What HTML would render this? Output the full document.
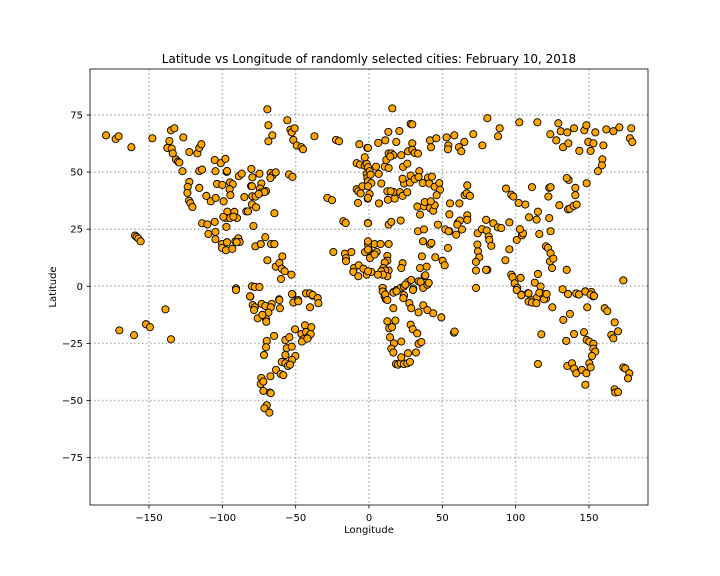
<!DOCTYPE html>
<html><head><meta charset="utf-8">
<style>
html,body{margin:0;padding:0;background:#fff;}
svg{display:block;font-family:"DejaVu Sans","Liberation Sans",sans-serif;}
</style></head>
<body>
<svg id="chart" width="720" height="576" viewBox="0 0 720 576" xmlns="http://www.w3.org/2000/svg">
<rect x="0" y="0" width="720" height="576" fill="#fff"/>
<text x="369" y="63" text-anchor="middle" font-size="12" fill="#000">Latitude vs Longitude of randomly selected cities: February 10, 2018</text>
<g id="grid"></g>
<g id="points"></g>
<rect x="90" y="69" width="558" height="436" fill="none" stroke="#000" stroke-width="0.8"/>
<g id="axes"></g>
<text x="369" y="533" text-anchor="middle" font-size="10">Longitude</text>
<text x="0" y="0" transform="translate(56,287) rotate(-90)" text-anchor="middle" font-size="10">Latitude</text>
</svg>
<script>
const xTicks = [-150,-100,-50,0,50,100,150];
const yTicks = [-75,-50,-25,0,25,50,75];
const points = [
[-179.3,66.1],[-172.7,64.5],[-170.7,65.7],[-162,60.9],[-147.7,64.8],[-135,68.3],[-132.7,69.2],[-136.1,63.6],[-126.6,65.2],
[-137.5,60.6],[-134.5,60.3],[-133.8,58.2],[-131.6,55.5],[-130.2,54.6],[-129.3,54.2],[-122.5,58.8],[-117,58.2],[-115.7,60.6],[-114.3,62.2],
[-127.2,50.4],[-115.7,50.5],[-113.8,51.1],[-122.5,45.7],[-123.6,43.5],[-123.8,40.9],[-122.7,37.5],[-121.8,36.4],[-120.4,34.7],[-115.7,43.1],
[-105.2,55.3],[-101.1,53.9],[-97.9,55.8],[-104.7,50.4],[-97,50.1],[-96.8,50.5],[-110.9,39.6],[-107.9,37.2],[-104.5,38.7],
[-103.6,44.8],[-100,44.4],[-94.7,45.5],[-92.9,44.7],[-95,42.5],[-94.5,39.9],[-99.1,37.2],
[-88.8,48.2],[-86.8,49.3],[-80.2,51.4],[-79.5,47.7],[-74.7,49.3],[-80.4,43.9],[-79.8,43.8],[-73.4,45],[-74.3,42.8],[-73.8,41],[-70.2,41.7],[-71.3,41.3],
[-85,39.1],[-79.5,39.4],[-77.3,39.3],[-75.2,40.4],[-79.8,35.9],[-77,34.6],[-83.6,32.8],[-82.5,32.8],
[-67,49.6],[-65.7,48.6],[-63.6,49.9],[-67.2,47.4],[-54.5,49],[-52.2,47.9],
[-69.3,77.5],[-68.6,70.5],[-65.9,66.1],[-68.6,63.5],[-55.7,72.7],[-53.6,68.6],[-52.7,67.4],[-50.7,69.2],[-51.6,64.1],[-49.3,61.7],[-46.1,60.9],[-45,60],
[-37.2,65.7],[-22.5,64.1],[-20.4,63.5],[-6.6,62.2],[-28.4,38.7],[-25.2,37.7],[-64.5,32],[-17.5,28.5],[-15.9,27.7],
[-96.6,32.7],[-97.5,29.9],[-94.7,29.9],[-91.8,32.6],[-90,29.9],[-92.5,30.5],[-99.3,30.4],[-97.2,26],[-78.8,26.4],
[-113.8,27.6],[-110.2,27.1],[-105.2,28.2],[-109.5,22.9],[-104.7,23.8],[-104.7,20.6],
[-159.5,22.2],[-158.4,21.6],[-157.2,20.9],[-155.7,19.7],
[-100.2,18.5],[-96.8,19.3],[-100.2,16.8],[-97.5,15.8],[-93.2,16.4],[-91.1,19.7],[-89.1,21],[-88.2,19.4],[-90.2,19.3],
[-77.5,17.5],[-73.8,18.5],[-70.7,21.5],[-66.8,18.5],[-64.5,18.5],
[-59.1,13.1],[-69.3,11.4],[-63.6,8.6],[-61.1,10.2],[-59.5,7.7],[-57.5,6.6],[-52.9,5.1],[-60,3.2],
[-90.7,-0.9],[-80.9,-4.5],[-79.8,0],[-77.9,-0.3],[-74.7,-0.3],
[-61.3,-5.7],[-52.2,-3.5],[-48.4,-6],[-42.9,-3.1],[-40.9,-3.1],[-38.4,-4.1],[-35,-5.1],
[-24.3,15],[-16.4,14.3],[-15.7,12.3],[-15.7,11],[-12,15],[-10.2,8],[-10.7,6.3],[-7,9.2],[-7.3,4.4],[-3.8,7.7],[-1.6,5.1],[-2.7,15],[-0.2,16],[0.7,12.4],
[-8.4,53.9],[-6.1,53.3],[-2.9,52.8],[-1.6,53.6],[-1.1,60.6],[-2.9,56.5],[-1.6,49.2],[-1.1,47.4],[-0.2,45.3],[-8.4,42.5],[-7.3,41.6],[-5.7,40.7],[-4.5,43.8],[-7.5,36.5],[-0.9,38.4],[-0.7,27.7],
[15.9,77.9],[28.4,71.1],[29.5,70.9],[13.2,67.6],[20.7,68],[6.3,62.8],[11.1,63.9],[18.6,63.2],[-0.7,60.6],
[29.5,62.6],[41.6,63.9],[45.9,64.8],[42.3,60.9],[52.9,65.2],[58.2,66.1],[54.1,61.7],[53.8,60],[61.3,60.9],[65,63.2],[62.9,59.1],
[71.1,66.6],[77.3,61.7],[80.7,73.6],[89.1,69.2],[88,65.7],[102.5,71.8],[114.8,71.8],[129.1,71.4],
[123.6,66.6],[127.7,63.9],[130.7,67.9],[135.2,67.4],[139.8,69.2],[132.3,60.9],[135.9,62.6],[143.4,59.3],[146.8,68.3],[148.2,70.5],[154.3,67.4],[149.5,63.2],[153,62.6],[159.8,61.7],[161.8,68.7],[166.6,67.9],[170.7,69.6],[178.8,69.2],[177.9,64.8],[179.5,63.2],
[151.1,59.3],[159.1,55.6],[158.8,53],[156.1,50.4],[148.4,45.1],
[-0.7,52.1],[0.4,50.4],[1.1,48.9],[4.8,52.4],[6.6,49.2],[-0.7,46],[1.6,45.2],[-0.7,43.8],[0.4,40.4],[-0.7,38.7],
[10.7,52.4],[13.4,51.8],[11.8,55.3],[13.4,58.2],[15.2,58.2],[16.6,57.4],[14.5,56.8],[22,57.4],[23.2,52.3],[26.6,59.1],[29.5,59.8],[31.1,58.4],[33.4,58.1],[26.1,53.7],[28.4,48.5],[23.9,45],[22.9,47.1],[21.1,41.2],[22.9,39.6],[26.1,41.2],[27.9,45.4],[31.1,46.9],[34.3,50.4],[33.8,47.9],[36.6,45.2],[40.2,47.6],[41.1,45],[44.8,43.6],[42.9,48],[47.9,45.2],[48.4,42.3],[46.1,39.9],[12.5,41.6],[12.9,37.9],[17.5,38.4],[16.6,41.3],[14.8,41.6],[6.8,36.3],[8.4,45],
[33,34.9],[34.8,31.4],[37.5,35],[38,36.9],[41.6,34.3],[43.8,33.1],[44.8,35.5],[42.1,37.2],[55.2,36.3],[54.8,31.5],[61.6,36.3],[67,44.2],[65.2,39.9],[66.6,40.7],[68.8,39.6],
[60.7,27.9],[62,28.8],[67,31.1],[67,29.1],[60.2,27],[59.5,22.6],[63.4,24.9],[54.8,24.1],[52,24.9],[-0.7,27.6],
[13.4,27],[15.2,28.2],[21.6,28.8],[33.4,24.1],[37.5,24.9],
[74.1,23.2],[77,25],[80.2,24.4],[81.6,21.8],[82,20.3],[83.4,17.7],[79.8,29.1],[84.8,27.6],[87.9,25.8],[90.2,25.5],[95.7,28],[100.7,20.3],[104.3,22.3],[105,23.2],[102.9,25],[116.1,22.9],[123.8,24.1],[115.2,32.7],[114.3,29.2],[109.1,30.2],[106.6,35.8],[102,36.5],[97,40.1],[93.4,42.8],[98.4,39.3],[111.1,43.4],[122.9,43.1],[123.8,43.4],[122.3,39.3],[129.8,35.5],[135.7,33.7],[137,34],[139.5,35.2],[141.6,35.8],[140.7,39.9],[140.7,43.1],[136.1,46.6],[134.8,47.4],[122.9,29.9],
[120.7,17.5],[122,16.8],[123.8,14.5],[123.4,10.9],[125.7,12.1],[124.8,8],[134.8,7.2],[115.2,5.4],[95.7,16.2],[93,11.4],[103.4,3.7],[97,5.1],[97.9,4],[99.3,1.3],[101.1,-0.7],[103.9,-3.6],[108.4,-3],[113,1.6],[117,-0.1],[119.3,-3.4],[120.7,-5.4],[114.3,-5.1],[110.2,-6],[132,-1.3],[135.7,-3.4],[142,-3.4],[147.5,-2.2],[151.6,-2.5],[153,-4.4],[173.4,2.6],
[53.8,16.8],[45.2,12.7],[50.2,11.2],[51.6,9.2],[41.6,18.3],[42.5,19],[36.1,13.1],[34.8,8],[39.3,8.6],[37.9,4.5],[22.9,10.1],[22,8],[12.5,13.3],[12.5,11.2],[10.7,10.4],[9.8,8],[13.4,6.9],[11.1,6.9],[8.4,6.6],[12.5,4.4],[9.5,5.1],[6.1,5.1],[1.6,6.3],[-0.7,6.6],[3.8,18.5],[5.2,15],[3.8,13.9],[7.9,18.5],[13.4,18.5],[-0.7,18.3],[-0.7,16.1],[-0.7,19.7],[73.9,18.3],[74.3,15.3],[75.2,12.7],[72.9,10.7],[72.9,6.9],[80.7,7.2],[79.8,7.2],[54.3,24.1],[47,27],[36.8,19.7],
[9.3,-0.7],[9.8,-2.5],[10.7,-4.5],[16.6,-2.5],[18.8,-1.6],[21.6,-0.7],[23.8,-0.1],[26.6,1.9],[28.8,2.8],[24.8,0.7],[30.2,-1],[33.8,2.2],[35.2,1.9],[38.4,4.8],[37,-0.7],[39.8,0.7],[40.7,1.5],[23.8,-4.2],[11.6,-5.7],[73,-0.7],
[-170.2,-19.3],[-160.2,-21.4],[-152,-16.6],[-149.3,-17.9],[-138.8,-10.1],[-135,-23.2],[-90.7,-1.6],
[-81.1,-4.4],[-79.3,-8.2],[-77.9,-9.2],[-78.4,-10.4],[-75.9,-14],[-73.2,-7.7],[-70.7,-8.6],[-66.3,-7.7],[-67,-9.2],[-68.6,-11.5],[-70.2,-14.4],[-70,-15.5],[-72.7,-12.5],
[-61.1,-6],[-60.7,-9.6],[-52.5,-3.4],[-51.6,-7.1],[-48.2,-6.6],[-42.9,-3.1],[-40.2,-3.1],[-38.4,-3.8],[-35,-5.2],[-34.5,-7.4],[-40.2,-9.2],
[-64.7,-21.7],[-69.7,-23.9],[-70.2,-26.7],[-71.6,-30.1],[-57,-23.5],[-54.3,-22.3],[-56.1,-27.1],[-52.7,-26.4],[-50.4,-18.8],[-50.2,-30.5],[-52.5,-32.2],[-57,-30.1],[-59.5,-33.1],[-57,-33.7],[-55.2,-34.9],[-53.8,-34.3],[-63.4,-36.6],[-60.2,-38.4],[-58.4,-38.9],[-67.2,-39.4],[-73.4,-40.1],[-73.8,-42.8],[-72,-41.7],[-72,-45.8],[-67.5,-46.5],[-67,-46.8],[-69.7,-52.1],[-71.3,-53.4],[-67.9,-55.3],
[-46.1,-20.9],[-44.8,-23.2],[-45.7,-24.2],[-43.6,-17.1],[-42.9,-20],[-41.1,-22],[-39.7,-20.9],[-39.3,-17.9],[-42,-22.9],
[9.3,-2.3],[11.1,-3.6],[16.6,-2.8],[18.8,-2.2],[23.8,-3.9],[23.4,-5.2],[27.5,-7.4],[28.8,-9.6],[33.8,-11.4],[37,-8.3],[39.8,-10.4],[43.8,-11.8],[49.3,-13.6],[30,-1.6],
[12.5,-6],[16.6,-9.6],[12.5,-15.3],[18,-15],[13.8,-18.4],[15.7,-17.9],[14.3,-22.3],[17,-25],[15.2,-27.3],[16.6,-29],[22,-24.2],[18.4,-34],[19.8,-34.3],[21.6,-33.7],[23.8,-34],[26.1,-33.7],[27.9,-33.1],[22,-31.1],[26.6,-29.3],[28.4,-16.8],[29.8,-18.8],[32.9,-20.6],[32,-29],[33.8,-25.2],[35.7,-24.4],[57.9,-20.3],[58.4,-19.8],
[100.7,-1.6],[103.9,-3.9],[108.8,-3.1],[108.8,-6.7],[111.1,-7.1],[114.1,-7.4],[116.1,-2.8],[119.3,-5.7],[121.1,-3.4],[125,-9.2],[132.5,-14.7],[137,-12.1],[117.5,-21],[115.2,-34],[134.5,-23.9],[139.8,-20.9],[135.2,-34.9],[138.4,-33.7],[139.8,-36],[141.3,-38.1],[145.2,-36.6],[148.2,-38.1],[146.6,-20.1],[148.8,-9.2],[148.4,-23.5],[150.2,-24.2],[153,-25.2],[153,-27.3],[154.3,-28.6],[152,-30.5],[150.2,-33.7],[151.1,-35.5],[147.5,-43.1],[135.7,-3.4],[141.3,-3.1],[143.2,-3.6],[147.5,-2.3],[151.1,-3.6],[153.4,-4.2],[160.7,-9.6],[162.5,-10.9],[167.5,-15.8],[169.8,-19.7],[165.2,-21.3],[166.6,-22.8],[173.4,-35.5],[174.8,-36],[177.5,-38.1],[176.6,-40.3],[167.5,-45.1],[167.9,-46.5],[169.8,-46.3]
];

const NS = 'http://www.w3.org/2000/svg';
const X0 = 369, XS = 1.4667, Y0 = 286.3, YS = 2.284;
function xScale(v){ return X0 + v*XS; }
function yScale(v){ return Y0 - v*YS; }
function mk(tag, attrs){ const e = document.createElementNS(NS, tag); for (const k in attrs) e.setAttribute(k, attrs[k]); return e; }

const grid = document.getElementById('grid');
const axes = document.getElementById('axes');
xTicks.forEach(t => {
  const x = xScale(t);
  const gl = mk('line', {x1:x, x2:x, y1:69, y2:505, stroke:'#b0b0b0', 'stroke-width':1.5, 'stroke-dasharray':'1.5,2.5'});
  
  
  grid.appendChild(gl);
  const tk = mk('line', {x1:x, x2:x, y1:505, y2:508.5, stroke:'#000', 'stroke-width':0.8});
  
  
  axes.appendChild(tk);
  const lb = mk('text', {x:x, y:521, 'text-anchor':'middle', 'font-size':10});
  lb.textContent = t < 0 ? '\u2212' + Math.abs(t) : String(t);
  
  
  axes.appendChild(lb);
});
yTicks.forEach(t => {
  const y = yScale(t);
  const gl = mk('line', {x1:90, x2:648, y1:y, y2:y, stroke:'#b0b0b0', 'stroke-width':1.5, 'stroke-dasharray':'1.5,2.5'});
  
  
  grid.appendChild(gl);
  const tk = mk('line', {x1:86.5, x2:90, y1:y, y2:y, stroke:'#000', 'stroke-width':0.8});
  
  
  axes.appendChild(tk);
  const lb = mk('text', {x:83, y:y+3.5, 'text-anchor':'end', 'font-size':10});
  lb.textContent = t < 0 ? '\u2212' + Math.abs(t) : String(t);
  
  
  axes.appendChild(lb);
});
const pg = document.getElementById('points');
points.forEach(p => {
  const c = mk('circle', {cx:xScale(p[0]), cy:yScale(p[1]), r:3.6, fill:'#FFA500', stroke:'#000', 'stroke-width':0.9});
  
  
  pg.appendChild(c);
});
</script>
</body></html>
